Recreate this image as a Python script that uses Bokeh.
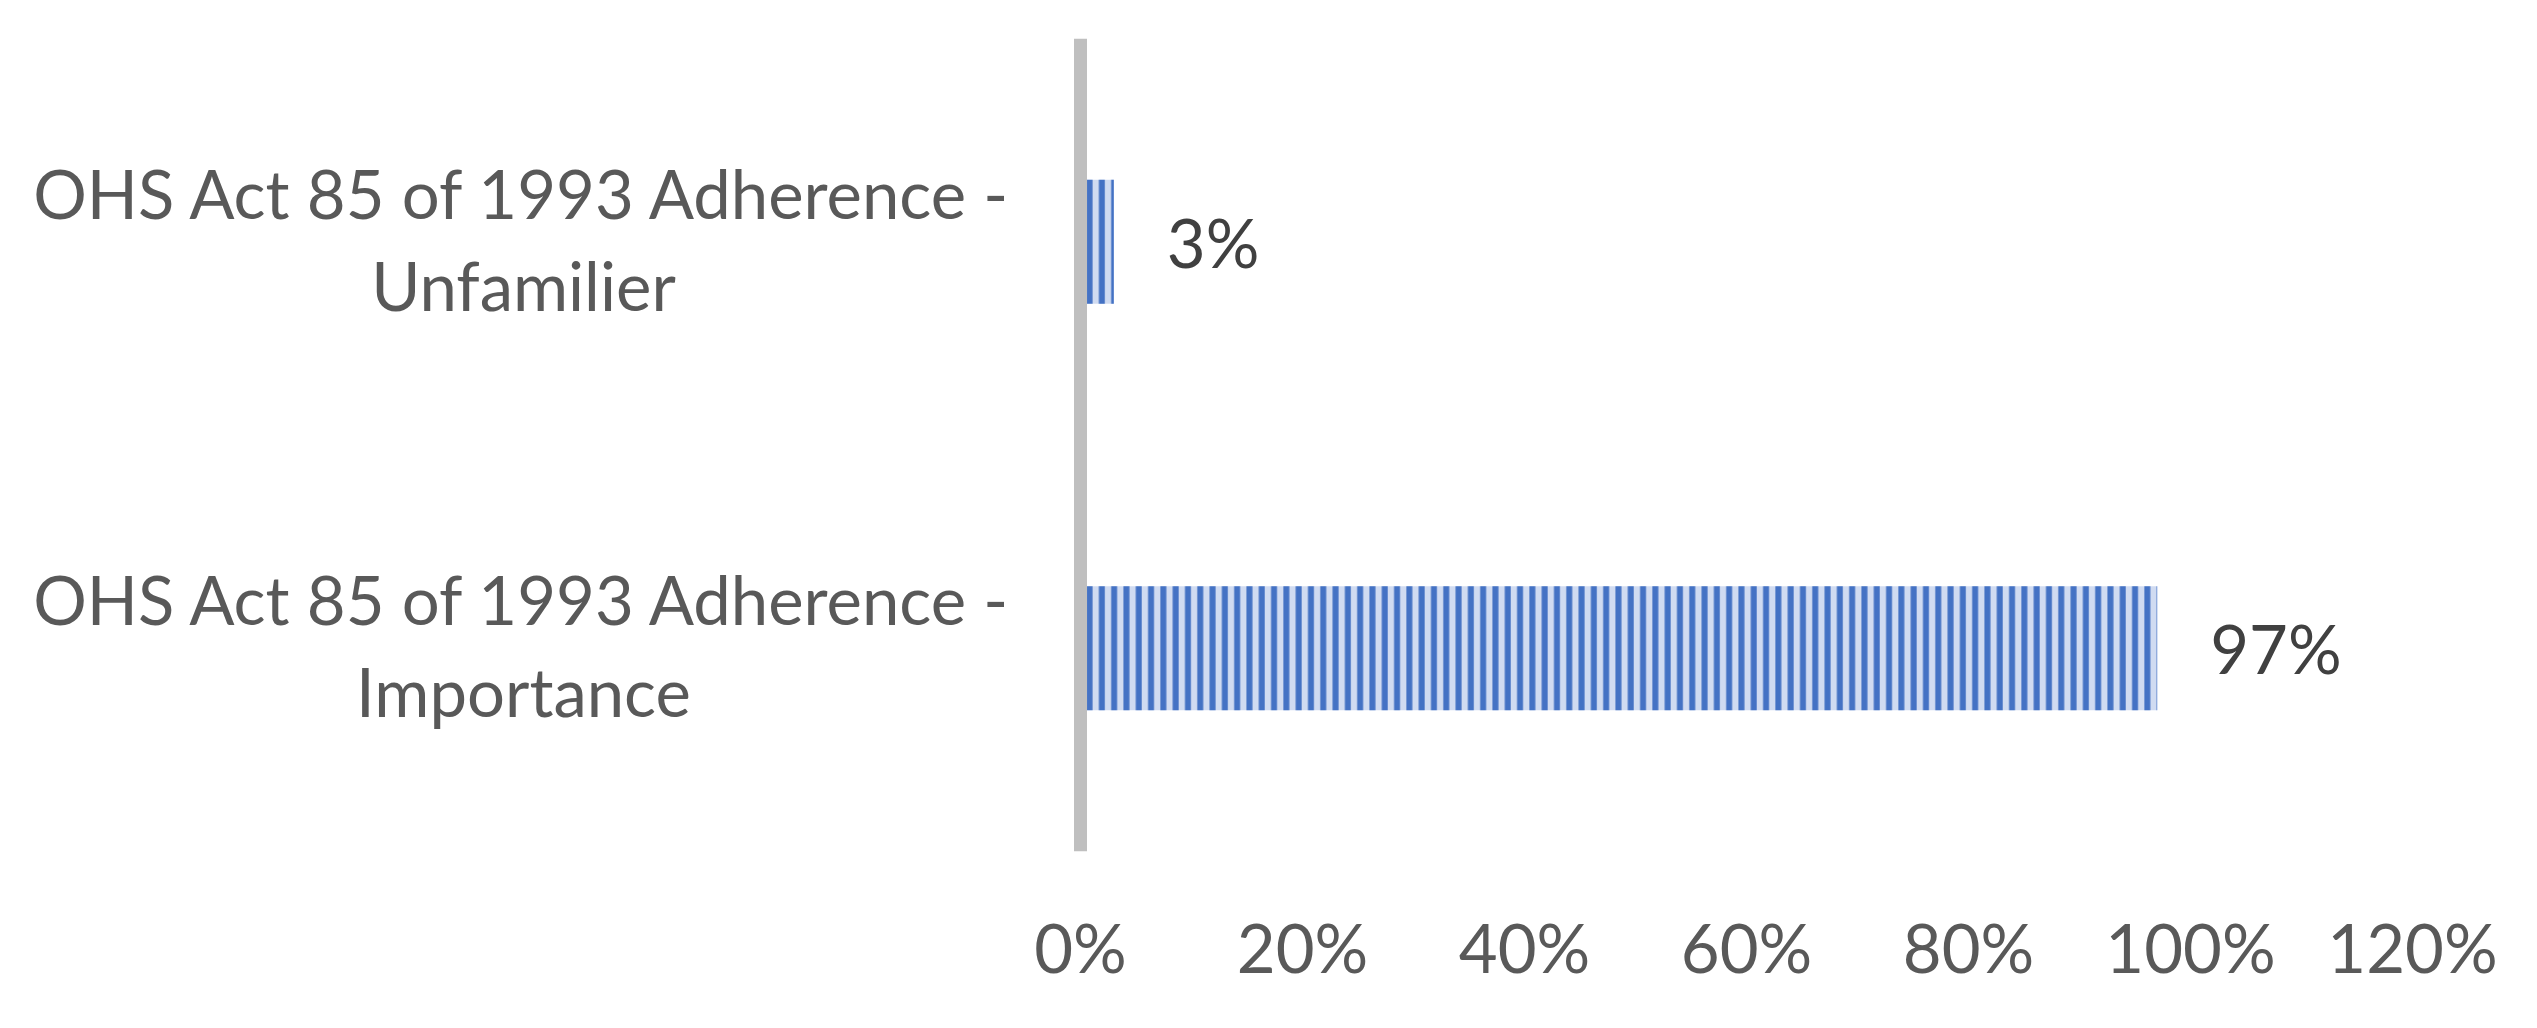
from bokeh.plotting import figure
from bokeh.models import FactorRange, Range1d, ColumnDataSource, FixedTicker, NumeralTickFormatter, Span
from bokeh.core.properties import value
from bokeh.embed import file_html
from bokeh.resources import INLINE

categories = ["OHS Act 85 of 1993 Adherence - Importance", "OHS Act 85 of 1993 Adherence - Unfamilier"]
cat_labels = ["OHS Act 85 of 1993 Adherence -\nImportance", "OHS Act 85 of 1993 Adherence -\nUnfamilier"]
values = [0.97, 0.03]
value_labels = ["97%", "3%"]
x_ticks = [0, 0.2, 0.4, 0.6, 0.8, 1.0, 1.2]

W, H = 2521, 1012
LABEL_AREA = 1080          # px reserved left of the value axis for category labels
PX_PER_UNIT = 1110         # px per 100 %
p = figure(width=W, height=H, output_backend="svg", toolbar_location=None,
           y_range=FactorRange(*categories, range_padding=0),
           x_range=Range1d(-LABEL_AREA / PX_PER_UNIT, 1.2))
p.min_border_left = 0
p.min_border_right = 109
p.min_border_top = 38
p.min_border_bottom = 161
p.outline_line_color = None
p.background_fill_color = "white"
p.border_fill_color = "white"
p.grid.visible = False
p.yaxis.visible = False

xa = p.xaxis[0]
xa.ticker = FixedTicker(ticks=x_ticks)
xa.formatter = NumeralTickFormatter(format="0%")
xa.axis_line_color = None
xa.major_tick_line_color = None
xa.minor_tick_line_color = None
xa.major_label_text_font = "Lato"
xa.major_label_text_font_size = "67px"
xa.major_label_text_color = "#595959"
xa.major_label_standoff = 49

src = ColumnDataSource(dict(cat=categories, val=values, lab=value_labels, clab=cat_labels, zero=[0, 0]))

p.hbar(y="cat", right="val", left=0, height=0.305, source=src,
       fill_color="#D0DBF1", line_color=None,
       hatch_pattern="vertical_line", hatch_color="#4472C4", hatch_scale=12.3, hatch_weight=6)

p.add_layout(Span(location=0, dimension="height", line_color="#BFBFBF", line_width=13))

p.text(x="val", y="cat", text="lab", source=src, x_offset=53,
       text_align="left", text_baseline="middle",
       text_font=value("Lato"), text_font_size="67px", text_color="#404040")

p.text(x="zero", y="cat", text="clab", source=src, x_offset=-557, y_offset=-3,
       text_align="center", text_baseline="middle", text_line_height=1.15,
       text_font=value("Lato"), text_font_size="67px", text_color="#595959")

open("out.html", "w").write(file_html(p, INLINE))
